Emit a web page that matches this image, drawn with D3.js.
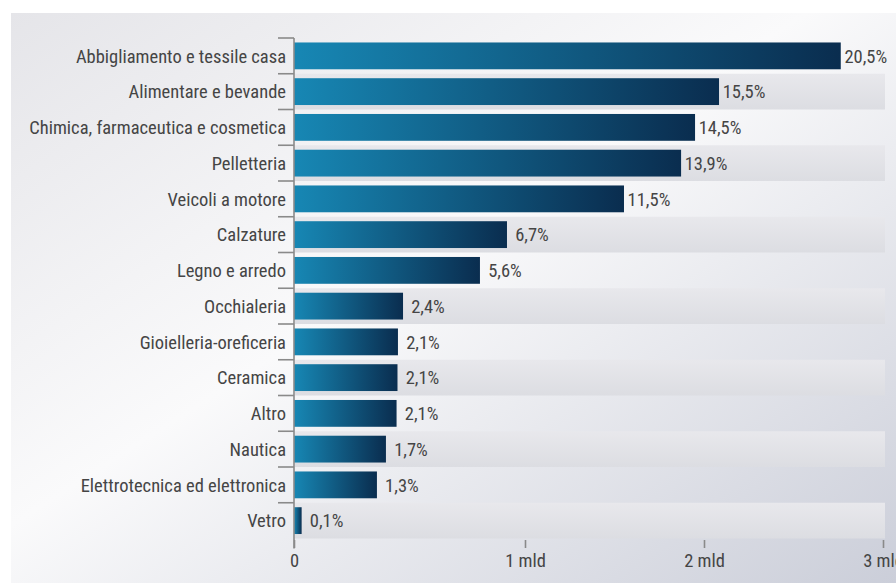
<!DOCTYPE html>
<html>
<head>
<meta charset="utf-8">
<script src="https://cdn.jsdelivr.net/npm/d3@7/dist/d3.min.js"></script>
<style>
  html, body { margin: 0; padding: 0; background: #ffffff; }
  svg { display: block; }
  text { font-family: "Roboto Condensed", "Liberation Sans Narrow", "DejaVu Sans Condensed", Roboto, sans-serif; fill: #454545; }
</style>
</head>
<body>
<svg id="chart" width="896" height="583"></svg>
<script>
// ---- data ----
const categories = [
  "Abbigliamento e tessile casa",
  "Alimentare e bevande",
  "Chimica, farmaceutica e cosmetica",
  "Pelletteria",
  "Veicoli a motore",
  "Calzature",
  "Legno e arredo",
  "Occhialeria",
  "Gioielleria-oreficeria",
  "Ceramica",
  "Altro",
  "Nautica",
  "Elettrotecnica ed elettronica",
  "Vetro"
];
// bar length in billions (mld)
const values = [2.764, 2.084, 1.950, 1.872, 1.553, 0.922, 0.805, 0.472, 0.450, 0.448, 0.444, 0.398, 0.359, 0.033];
const shareLabels = ["20,5%", "15,5%", "14,5%", "13,9%", "11,5%", "6,7%", "5,6%", "2,4%", "2,1%", "2,1%", "2,1%", "1,7%", "1,3%", "0,1%"];
const tickValues = [0, 1, 2, 3];
const tickLabels = ["0", "1 mld", "2 mld", "3 mld"];

const W = 896, H = 583;
const FONT = '"Roboto Condensed", "Liberation Sans Narrow", "DejaVu Sans Condensed", Roboto, sans-serif';
const svg = d3.select("#chart");
const defs = svg.append("defs");

// background panel gradient
const bg = defs.append("linearGradient").attr("id", "bgGrad")
  .attr("x1", "0%").attr("y1", "0%").attr("x2", "100%").attr("y2", "100%");
bg.append("stop").attr("offset", "0%").attr("stop-color", "#e5e5e9");
bg.append("stop").attr("offset", "45%").attr("stop-color", "#fafafb");
bg.append("stop").attr("offset", "100%").attr("stop-color", "#cbced9");

const barGrad = defs.append("linearGradient").attr("id", "barGrad")
  .attr("x1", "0%").attr("y1", "0%").attr("x2", "100%").attr("y2", "0%");
barGrad.append("stop").attr("offset", "0%").attr("stop-color", "#1787b4");
barGrad.append("stop").attr("offset", "100%").attr("stop-color", "#0a2d4f");

const bandGrad = defs.append("linearGradient").attr("id", "bandGrad")
  .attr("x1", "0%").attr("y1", "0%").attr("x2", "0%").attr("y2", "100%");
bandGrad.append("stop").attr("offset", "0%").attr("stop-color", "#e8e8ec");
bandGrad.append("stop").attr("offset", "100%").attr("stop-color", "#dcdde2");

svg.append("rect").attr("x", 11).attr("y", 13).attr("width", W - 11).attr("height", H - 13)
  .attr("fill", "url(#bgGrad)");

// scales
const x = d3.scaleLinear().domain(tickValues).range([294, 525, 704, 883]);
const y = d3.scaleBand().domain(categories).range([38, 538.5]).paddingInner(0).paddingOuter(0);
const barPad = 0.125;

// alternating bands
svg.append("g").selectAll("rect").data(categories.filter((d, i) => i % 2 === 1))
  .join("rect")
  .attr("x", x(0) + 1)
  .attr("y", d => y(d))
  .attr("width", x(3) + 1 - x(0))
  .attr("height", y.bandwidth())
  .attr("fill", "url(#bandGrad)");

// bars
svg.append("g").selectAll("rect").data(categories)
  .join("rect")
  .attr("x", x(0))
  .attr("y", d => y(d) + y.bandwidth() * barPad)
  .attr("width", (d, i) => x(values[i]) - x(0))
  .attr("height", y.bandwidth() * (1 - 2 * barPad))
  .attr("fill", "url(#barGrad)");

// value labels
svg.append("g").selectAll("text").data(categories)
  .join("text")
  .attr("x", (d, i) => x(values[i]) + 25)
  .attr("y", d => y(d) + y.bandwidth() / 2)
  .attr("dy", "0.36em")
  .attr("text-anchor", "middle")
  .attr("font-size", 18.5)
  .text((d, i) => shareLabels[i]);

// y axis
const axisColor = "#8a8a8a";
const yAxis = svg.append("g");
yAxis.append("line")
  .attr("x1", x(0)).attr("x2", x(0))
  .attr("y1", y.range()[0]).attr("y2", y.range()[1] + 10)
  .attr("stroke", axisColor).attr("stroke-width", 1.6);
yAxis.selectAll("line.tick").data(categories)
  .join("line").attr("class", "tick")
  .attr("x1", x(0) - 16).attr("x2", x(0))
  .attr("y1", d => y(d)).attr("y2", d => y(d))
  .attr("stroke", axisColor).attr("stroke-width", 1.6);
yAxis.selectAll("text").data(categories)
  .join("text")
  .attr("x", x(0) - 8)
  .attr("y", d => y(d) + y.bandwidth() / 2)
  .attr("dy", "0.36em")
  .attr("text-anchor", "end")
  .attr("font-size", 18.5)
  .text(d => d);

// x axis
const xAxis = svg.append("g").attr("transform", `translate(0,${y.range()[1] + 1.5})`)
  .call(d3.axisBottom(x).tickValues(tickValues).tickFormat((d, i) => tickLabels[i]).tickSize(8).tickPadding(6));
xAxis.select(".domain").remove();
xAxis.selectAll(".tick line").attr("stroke", axisColor).attr("stroke-width", 1.6);
xAxis.selectAll(".tick text").attr("font-size", 18.5).attr("fill", "#454545")
  .style("font-family", FONT);
</script>
</body>
</html>
